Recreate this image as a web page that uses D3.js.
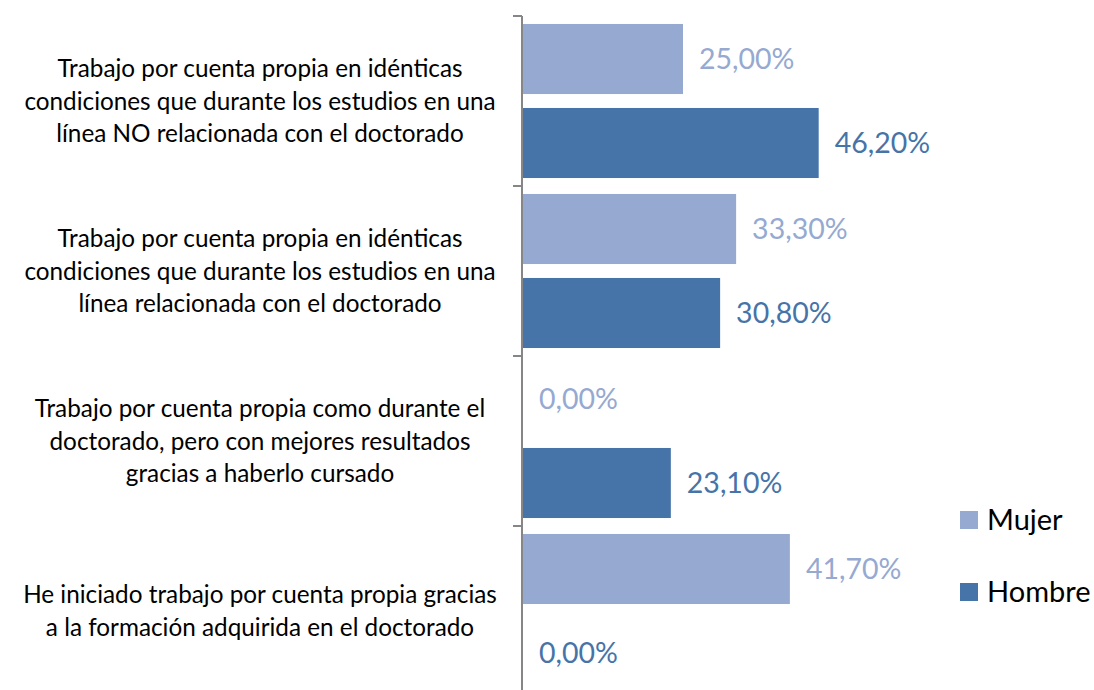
<!DOCTYPE html>
<html>
<head>
<meta charset="utf-8">
<script src="https://cdn.jsdelivr.net/npm/d3@7"></script>
<style>
  body { margin: 0; background: #fff; }
  svg { display: block; font-family: Lato, "Noto Sans", sans-serif; }
</style>
</head>
<body>
<svg id="chart" width="1094" height="690"></svg>
<script>
// categories, top to bottom, already split into display lines
const categories = [
  ["Trabajo por cuenta propia en idénticas", "condiciones que durante los estudios en una", "línea NO relacionada con el doctorado"],
  ["Trabajo por cuenta propia en idénticas", "condiciones que durante los estudios en una", "línea relacionada con el doctorado"],
  ["Trabajo por cuenta propia como durante el", "doctorado, pero con mejores resultados", "gracias a haberlo cursado"],
  ["He iniciado trabajo por cuenta propia gracias", "a la formación adquirida en el doctorado"]
];
const series = ["Mujer", "Hombre"];
const mujer = [25.0, 33.3, 0.0, 41.7];
const hombre = [46.2, 30.8, 23.1, 0.0];
const colors = { Mujer: "#95a9d1", Hombre: "#4674a8" };

const svg = d3.select("#chart");
const axisX = 522;

const catIdx = d3.range(categories.length);

const y0 = d3.scaleBand()
  .domain(catIdx)
  .range([16, 696])
  .padding(0);

const y1 = d3.scaleBand()
  .domain(series)
  .range([0, y0.bandwidth()])
  .paddingInner(0.166)
  .paddingOuter(0.095);

const x = d3.scaleLinear()
  .domain([0, 50])
  .range([axisX + 1, axisX + 1 + 320]);

const fmt = v => v.toFixed(2).replace(".", ",") + "%";

const rows = [];
catIdx.forEach(i => {
  rows.push({ cat: i, s: "Mujer", v: mujer[i] });
  rows.push({ cat: i, s: "Hombre", v: hombre[i] });
});

// bars
svg.append("g").selectAll("rect")
  .data(rows)
  .enter().append("rect")
    .attr("x", x(0))
    .attr("y", d => y0(d.cat) + y1(d.s))
    .attr("width", d => x(d.v) - x(0))
    .attr("height", y1.bandwidth())
    .attr("fill", d => colors[d.s]);

// value labels
svg.append("g").selectAll("text")
  .data(rows)
  .enter().append("text")
    .attr("x", d => x(d.v) + 16)
    .attr("y", d => y0(d.cat) + y1(d.s) + y1.bandwidth() / 2)
    .attr("dy", "0.35em")
    .attr("font-size", 28.5)
    .attr("fill", d => colors[d.s])
    .text(d => fmt(d.v));

// axis line and boundary ticks
const axis = svg.append("g").attr("stroke", "#868686").attr("stroke-width", 2);
axis.append("line")
  .attr("x1", axisX).attr("x2", axisX)
  .attr("y1", y0.range()[0]).attr("y2", y0.range()[1]);
const bounds = catIdx.map(i => y0(i));
axis.selectAll(".tick")
  .data(bounds)
  .enter().append("line")
    .attr("class", "tick")
    .attr("x1", axisX - 9).attr("x2", axisX)
    .attr("y1", d => d).attr("y2", d => d);

// category labels
const lineH = 32.5;
const labels = svg.append("g").attr("font-size", 24.3).attr("fill", "#000").attr("text-anchor", "middle");
catIdx.forEach(i => {
  const lines = categories[i];
  const cy = y0(i) + y0.bandwidth() / 2;
  const t = labels.append("text").attr("y", cy - (lines.length - 1) * lineH / 2);
  lines.forEach((ln, k) => {
    t.append("tspan")
      .attr("x", 260)
      .attr("dy", k === 0 ? "0.35em" : lineH)
      .text(ln);
  });
});

// legend
const legend = svg.append("g").selectAll("g")
  .data(series)
  .enter().append("g")
    .attr("transform", (d, i) => `translate(960, ${511 + i * 72})`);
legend.append("rect")
  .attr("width", 18).attr("height", 18)
  .attr("fill", d => colors[d]);
legend.append("text")
  .attr("x", 27).attr("y", 9)
  .attr("dy", "0.35em")
  .attr("font-size", 29)
  .attr("fill", "#000")
  .text(d => d);
</script>
</body>
</html>
